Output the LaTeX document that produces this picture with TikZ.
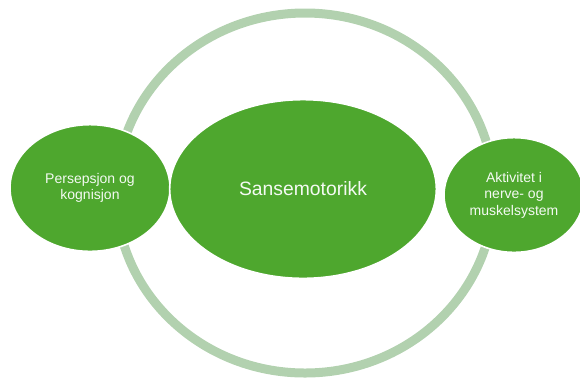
\documentclass[tikz,border=0pt]{standalone}
\usepackage{fontspec}
\setmainfont{Liberation Sans}
\usetikzlibrary{shapes.geometric}
\definecolor{leafgreen}{HTML}{4EA72E}
\definecolor{palegreen}{HTML}{B2D1AF}
\tikzset{%
    ring/.style={line width = 6.75pt, draw=palegreen},
    blob/.style={ellipse, fill=leafgreen, draw=white, line width = 1.2pt, inner sep=0pt,
        text=white!94!leafgreen, align=center},
    smalltxt/.style={font=\fontsize{10.5}{12.3}\selectfont},
    bigtxt/.style={font=\fontsize{14.5}{17}\selectfont},
}
\begin{document}
\begin{tikzpicture}[x=0.75pt, y=-0.75pt]
    \useasboundingbox (0,0) rectangle (580,380);
    \clip (0,0) rectangle (580,380);
    \coordinate (O) at (305,193);
    \draw [ring](O) ellipse [x radius=189, y radius=180];
    \node [blob,smalltxt,minimum width=120pt,minimum height=95pt] (perc) at (90,188) {Persepsjon og\\kognisjon};
    \node [blob,smalltxt,minimum width=105pt,minimum height=86pt] (act) at (514,195) {Aktivitet i\\nerve- og\\muskelsystem};
    \node [blob,bigtxt,minimum width=200pt,minimum height=134pt] (sens) at (303,189) {Sansemotorikk};
\end{tikzpicture}
\end{document}
